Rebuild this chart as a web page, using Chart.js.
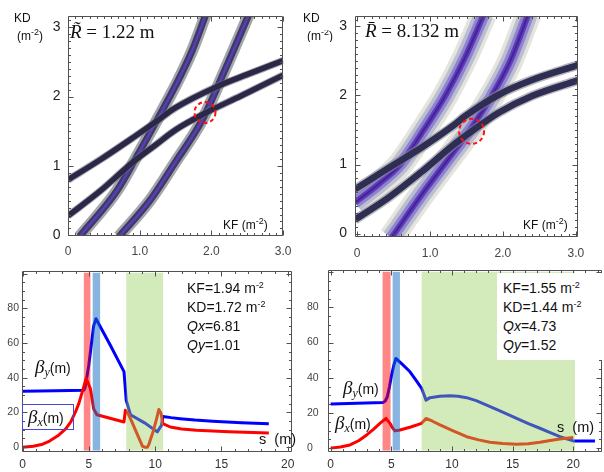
<!DOCTYPE html>
<html lang="en">
<head>
<meta charset="UTF-8" />
<title>Working point and lattice functions</title>
<script src="https://cdn.jsdelivr.net/npm/chart.js@4"></script>
<style>
  body { margin: 0; background: #fff; }
  #fig { position: relative; width: 604px; height: 472px; overflow: hidden;
         font-family: "Liberation Sans", Arial, sans-serif; color: #111; }
  #fig canvas { position: absolute; }
  .t { position: absolute; white-space: nowrap; line-height: 1; }
  .serif { font-family: "Liberation Serif", "Times New Roman", serif; }
  .sup { font-size: 9px; vertical-align: 5px; line-height: 0; }
  .beta { font-family: "Liberation Serif", serif; font-style: italic; font-size: 19px; line-height: 0; }
  .sub { font-family: "Liberation Serif", serif; font-style: italic; font-size: 12px; vertical-align: -3px; line-height: 0; }
  .lines { line-height: 19px; font-size: 14px; }
</style>
</head>
<body>
<div id="fig">
  <canvas id="tl" width="300" height="262" style="left:0;top:0"></canvas>
  <canvas id="tr" width="304" height="262" style="left:300px;top:0"></canvas>
  <canvas id="bl" width="300" height="210" style="left:0;top:262px"></canvas>
  <canvas id="br" width="297" height="210" style="left:307px;top:262px"></canvas>

  <!-- tune diagrams -->
  <div class="t" style="left:14px;top:12px;font-size:12px">KD</div>
  <div class="t" style="left:17px;top:30px;font-size:12px">(m<span class="sup">-2</span>)</div>
  <div class="t serif" style="left:70px;top:22px;font-size:19px"><i>R&#x303;</i> = 1.22 m</div>
  <div class="t" style="left:223px;top:219px;font-size:12px">KF (m<span class="sup">-2</span>)</div>

  <div class="t" style="left:303px;top:12px;font-size:12px">KD</div>
  <div class="t" style="left:307px;top:30px;font-size:12px;width:27px;overflow:hidden">(m<span class="sup">-2</span>)</div>
  <div class="t serif" style="left:365px;top:21px;font-size:19px"><i>R&#x304;</i> = 8.132 m</div>
  <div class="t" style="left:523px;top:219px;font-size:12px">KF (m<span class="sup">-2</span>)</div>

  <!-- beta functions, left -->
  <div class="t lines" style="left:187px;top:279px">
    KF=1.94 m<span class="sup">-2</span><br>KD=1.72 m<span class="sup">-2</span><br><i>Qx</i>=6.81<br><i>Qy</i>=1.01
  </div>
  <div class="t" style="left:35px;top:361px;font-size:14px"><span class="beta">β</span><span class="sub">y</span>(m)</div>
  <div style="position:absolute;left:22px;top:404px;width:50px;height:24px;border:1px solid #4848d0"></div>
  <div class="t" style="left:28px;top:411px;font-size:14px"><span class="beta">β</span><span class="sub">x</span>(m)</div>
  <div class="t" style="left:259px;top:432px;font-size:14.5px">s&nbsp;&nbsp;(m)</div>

  <!-- beta functions, right -->
  <div style="position:absolute;left:497px;top:273px;width:105px;height:87px;background:#fff"></div>
  <div class="t lines" style="left:503px;top:279px">
    KF=1.55 m<span class="sup">-2</span><br>KD=1.44 m<span class="sup">-2</span><br><i>Qx</i>=4.73<br><i>Qy</i>=1.52
  </div>
  <div class="t" style="left:343px;top:382px;font-size:14px"><span class="beta">β</span><span class="sub">y</span>(m)</div>
  <div class="t" style="left:335px;top:417px;font-size:14px"><span class="beta">β</span><span class="sub">x</span>(m)</div>
  <div class="t" style="left:557px;top:420px;font-size:14.5px">s&nbsp;&nbsp;(m)</div>
</div>

<script>
// ---- tune diagram, R~ = 1.22 m  (points are [KF, KD]) ----
const tlUpper  = [[0,0.80],[0.45,1.09],[0.91,1.41],[1.23,1.64],[1.5,1.84],[2.09,2.15],[2.5,2.32],[3.0,2.52]];
const tlLower  = [[0,0.28],[0.45,0.64],[0.91,1.06],[1.23,1.31],[1.5,1.52],[1.91,1.76],[2.41,2.01],[3.0,2.31]];
const tlSteepA = [[0.16,-0.02],[0.68,0.64],[0.95,1.12],[1.25,1.68],[1.5,2.16],[1.73,2.66],[1.92,3.18]];
const tlSteepB = [[0.71,-0.02],[1.14,0.5],[1.5,1.06],[1.87,1.66],[2.14,2.27],[2.52,3.18]];
const tlRing   = [1.91, 1.77];

// ---- tune diagram, R- = 8.132 m ----
const trUpper  = [[-0.03,0.64],[0.43,0.95],[0.89,1.25],[1.34,1.58],[1.48,1.7],[1.94,2.01],[2.39,2.22],[3.03,2.44]];
const trLower  = [[-0.03,0.2],[0.43,0.52],[0.89,0.9],[1.34,1.3],[1.48,1.41],[1.94,1.75],[2.39,1.99],[3.03,2.22]];
const trSteepA = [[-0.03,0.45],[0.3,0.72],[0.59,1.0],[0.9,1.48],[1.21,2.0],[1.48,2.55],[1.74,3.18]];
const trSteepB = [[0.47,-0.06],[0.89,0.57],[1.23,1.05],[1.56,1.52],[1.85,2.0],[2.1,2.5],[2.35,3.18]];
const trRing   = [1.57, 1.48];

const tuneTicks  = [0, 1, 2, 3];
const tuneXLabels = ['0', '1.0', '2.0', '3.0'];
const tuneYLabels = ['0', '1', '2', '3'];

// ---- beta functions (points are [s, beta]) ----
const blBetaY = [[0,32.2],[2.5,32.5],[4.62,32.8],[4.7,34],[4.8,38],[4.99,46.9],[5.36,69.8],[5.54,74],[6.6,59],
                 [7.65,43.5],[7.82,26.9],[8.14,18.7],[9.2,14],[10.16,8.8],[10.48,12.6],[10.58,17.7],[11.2,17],
                 [11.88,16.4],[13,15.6],[14.34,14.9],[16.5,14.1],[18.57,13.5]];
const blBetaX = [[0,0],[0.81,0.5],[1.43,1.5],[2.04,3.5],[2.66,6.5],[3.27,10.7],[3.64,14.5],[4.01,20.6],[4.26,25.5],
                 [4.5,31.7],[4.8,39.7],[5.12,33.6],[5.36,22.1],[5.61,18.7],[7.65,14.5],[7.75,21.2],[7.95,19.5],
                 [8.19,15.5],[8.45,11],[8.68,6.9],[8.9,3],[9.05,0.5],[9.22,0],[9.42,0],[9.55,2],[9.67,5],[9.8,7.8],
                 [9.91,10.7],[10.11,16.4],[10.28,21.7],[10.45,19.3],[10.58,13.5],[11.14,11.6],[12,10.5],
                 [13.11,9.7],[15.57,8.8],[18.57,8.2]];
const blBands = [[4.62,5.12],[5.29,5.85],[7.82,10.6]];   // F quad, D quad, dipole

const brBetaY = [[0,25.1],[4.34,26.0],[4.5,26.8],[4.67,29.2],[4.85,35],[5.02,41.5],[5.2,47],[5.38,51],[6.0,47],
                 [6.54,43.4],[7.0,39],[7.5,34],[7.86,27.3],[8.19,28.7],[9,29.5],[9.83,29.8],[10.5,29.5],[11.2,28.7],
                 [12,27],[12.86,24.5],[14,21],[15.33,16.9],[16.3,14],[17.25,11.3],[18.1,8.8],[18.9,6.5],[20,4.1],[21.79,4.1]];
const brBetaX = [[0,0],[0.8,0.6],[1.59,1.8],[2.3,4.2],[2.97,7.5],[3.5,10.5],[4.06,14.1],[4.56,16.9],[4.89,14.1],
                 [5.1,11.5],[5.3,9.8],[5.71,10.3],[6.6,12],[7.5,14.1],[7.86,16.9],[8.4,15.3],[9.01,13.2],[10.1,9.8],
                 [11.21,6.5],[12.2,4.7],[13.13,3.3],[14.2,2.6],[15.33,2.2],[16.3,2.5],[17.25,3.3],[18.1,4.3],
                 [18.9,5.2],[20,6.0]];
const brBands = [[4.28,4.94],[5.11,5.71],[7.5,20.14]];

const sTicks    = [0, 5, 10, 15, 20];
const betaTicks = [0, 20, 40, 60, 80];

// ---------------------------------------------------------------
const SANS = '"Liberation Sans", Arial, sans-serif';
const bandColors = ['rgba(255,0,0,0.47)', 'rgba(15,105,195,0.5)', 'rgba(150,205,90,0.42)'];

function pts(a) { return a.map(p => ({ x: p[0], y: p[1] })); }

function stroke(points, width, color, smooth) {
  return { data: pts(points), borderColor: color, borderWidth: width, pointRadius: 0,
           cubicInterpolationMode: smooth ? 'monotone' : 'default', tension: 0,
           borderJoinStyle: 'round', fill: false, clip: 0 };
}

// a soft band: several strokes of the same curve, widest first
function layered(points, layers) { return layers.map(l => stroke(points, l[0], l[1], true)); }

function steps(min, max, step) {
  const out = [];
  for (let v = Math.ceil(min / step - 1e-9) * step; v <= max + 1e-9; v += step) out.push(+v.toFixed(6));
  return out;
}
const isMul = (v, m) => Math.abs(v / m - Math.round(v / m)) < 1e-6;

// Mathematica-like frame with inward ticks on all four sides
function frame(xMinor, xMajor, yMinor, yMajor) {
  return {
    id: 'frame',
    afterDraw(chart) {
      const { ctx, chartArea: a, scales: { x, y } } = chart;
      const L = Math.round(a.left) + 0.5, R = Math.round(a.right) - 0.5;
      const T = Math.round(a.top) + 0.5, B = Math.round(a.bottom) - 0.5;
      ctx.save();
      ctx.strokeStyle = '#505050';
      ctx.lineWidth = 1;
      ctx.beginPath();
      ctx.rect(L, T, R - L, B - T);
      steps(x.min, x.max, xMinor).forEach(v => {
        const len = isMul(v, xMajor) ? 5 : 2.5, p = Math.round(x.getPixelForValue(v)) + 0.5;
        ctx.moveTo(p, B); ctx.lineTo(p, B - len);
        ctx.moveTo(p, T); ctx.lineTo(p, T + len);
      });
      steps(y.min, y.max, yMinor).forEach(v => {
        const len = isMul(v, yMajor) ? 5 : 2.5, p = Math.round(y.getPixelForValue(v)) + 0.5;
        ctx.moveTo(L, p); ctx.lineTo(L + len, p);
        ctx.moveTo(R, p); ctx.lineTo(R - len, p);
      });
      ctx.stroke();
      ctx.restore();
    }
  };
}

function ring(at, r) {
  return {
    id: 'ring',
    afterDatasetsDraw(chart) {
      const { ctx, scales: { x, y } } = chart;
      ctx.save();
      ctx.strokeStyle = '#ff1010';
      ctx.lineWidth = 2;
      ctx.setLineDash([4, 3]);
      ctx.beginPath();
      ctx.arc(x.getPixelForValue(at[0]), y.getPixelForValue(at[1]), r, 0, 2 * Math.PI);
      ctx.stroke();
      ctx.restore();
    }
  };
}

// magnet blocks drawn translucent over the curves
function bands(spans) {
  return {
    id: 'bands',
    afterDatasetsDraw(chart) {
      const { ctx, chartArea: a, scales: { x } } = chart;
      ctx.save();
      spans.forEach((s, i) => {
        const x0 = x.getPixelForValue(s[0]), x1 = x.getPixelForValue(s[1]);
        ctx.fillStyle = bandColors[i];
        ctx.fillRect(x0, a.top + 1.5, x1 - x0, a.bottom - a.top - 3);
      });
      ctx.restore();
    }
  };
}

function axis(o) {
  return {
    type: 'linear', min: o.min, max: o.max,
    grid: { display: false, drawTicks: false }, border: { display: false },
    afterBuildTicks: s => { s.ticks = o.ticks.map(v => ({ value: v })); },
    afterFit: s => { if (o.width) s.width = o.width; if (o.height) s.height = o.height; },
    ticks: { autoSkip: false, maxRotation: 0, padding: o.pad, color: o.color, crossAlign: o.cross || 'near',
             font: { family: SANS, size: o.size },
             callback: (v, i) => o.labels ? o.labels[i] : String(v) }
  };
}

function chart(id, datasets, pad, xs, ys, plugins) {
  return new Chart(document.getElementById(id), {
    type: 'line',
    data: { datasets: datasets.reverse() },   // first entry ends up on top
    options: {
      responsive: false, animation: false, devicePixelRatio: 1,
      layout: { padding: pad },
      plugins: { legend: { display: false }, tooltip: { enabled: false } },
      scales: { x: axis(xs), y: axis(ys) }
    },
    plugins
  });
}

// ---- top-left tune diagram ----
const tlSteep = [[12, 'rgba(120,128,132,0.7)'], [7, '#3d3a66'], [2.5, '#5a3cb4']];
const tlDark  = [[7.5, 'rgba(110,110,130,0.6)'], [5.5, '#2a2846']];
chart('tl',
  [...layered(tlSteepA, tlSteep), ...layered(tlSteepB, tlSteep),
   ...layered(tlUpper, tlDark), ...layered(tlLower, tlDark)],
  { top: 10, right: 12, left: 0, bottom: 0 },
  { min: 0, max: 3.0, ticks: tuneTicks, labels: tuneXLabels, height: 26, pad: 8.5, size: 12, color: '#444' },
  { min: -0.01, max: 3.164, ticks: tuneTicks, labels: tuneYLabels, width: 68, pad: 7.5, size: 14, color: '#222' },
  [ring(tlRing, 10.5), frame(0.1, 1, 0.1, 1)]);

// ---- top-right tune diagram ----
const trSteep = [[26, 'rgba(218,218,208,0.7)'], [19, 'rgba(176,180,208,0.8)'], [12, 'rgba(138,126,206,0.9)'],
                 [6, '#5b3db5'], [2, '#4a1fa0']];
const trDark  = [[9.5, 'rgba(135,135,150,0.6)'], [6.5, '#2e2d52']];
chart('tr',
  [...layered(trSteepA, trSteep), ...layered(trSteepB, trSteep),
   ...layered(trUpper, trDark), ...layered(trLower, trDark)],
  { top: 12, right: 26, left: 0, bottom: 0 },
  { min: -0.03, max: 3.03, ticks: tuneTicks, labels: tuneXLabels, height: 25, pad: 9.5, size: 12, color: '#444' },
  { min: -0.05, max: 3.145, ticks: tuneTicks, labels: tuneYLabels, width: 55, pad: 8, size: 14, color: '#222' },
  [ring(trRing, 12.5), frame(0.1, 1, 0.1, 1)]);

// ---- bottom-left beta functions ----
chart('bl',
  [stroke(blBetaX, 3, '#ff0000'), stroke(blBetaY, 3, '#0000ff')].reverse(),
  { top: 8, right: 3, left: 0, bottom: 0 },
  { min: -0.04, max: 20.3, ticks: sTicks, height: 20, pad: 5.5, size: 12, color: '#333' },
  { min: -2.8, max: 101.3, ticks: betaTicks, width: 22, pad: 3, size: 10.5, color: '#444' },
  [bands(blBands), frame(1, 5, 5, 20)]);

// ---- bottom-right beta functions ----
chart('br',
  [stroke(brBetaX, 3, '#ff0000'), stroke(brBetaY, 3, '#0000ff')].reverse(),
  { top: 8, right: 2, left: 0, bottom: 0 },
  { min: -0.22, max: 22.37, ticks: sTicks, height: 20, pad: 5.5, size: 12, color: '#333' },
  { min: -2.2, max: 101.1, ticks: betaTicks, width: 21, pad: 2, size: 10.5, color: '#444', cross: 'far' },
  [bands(brBands), frame(1, 5, 5, 20)]);
</script>
</body>
</html>
